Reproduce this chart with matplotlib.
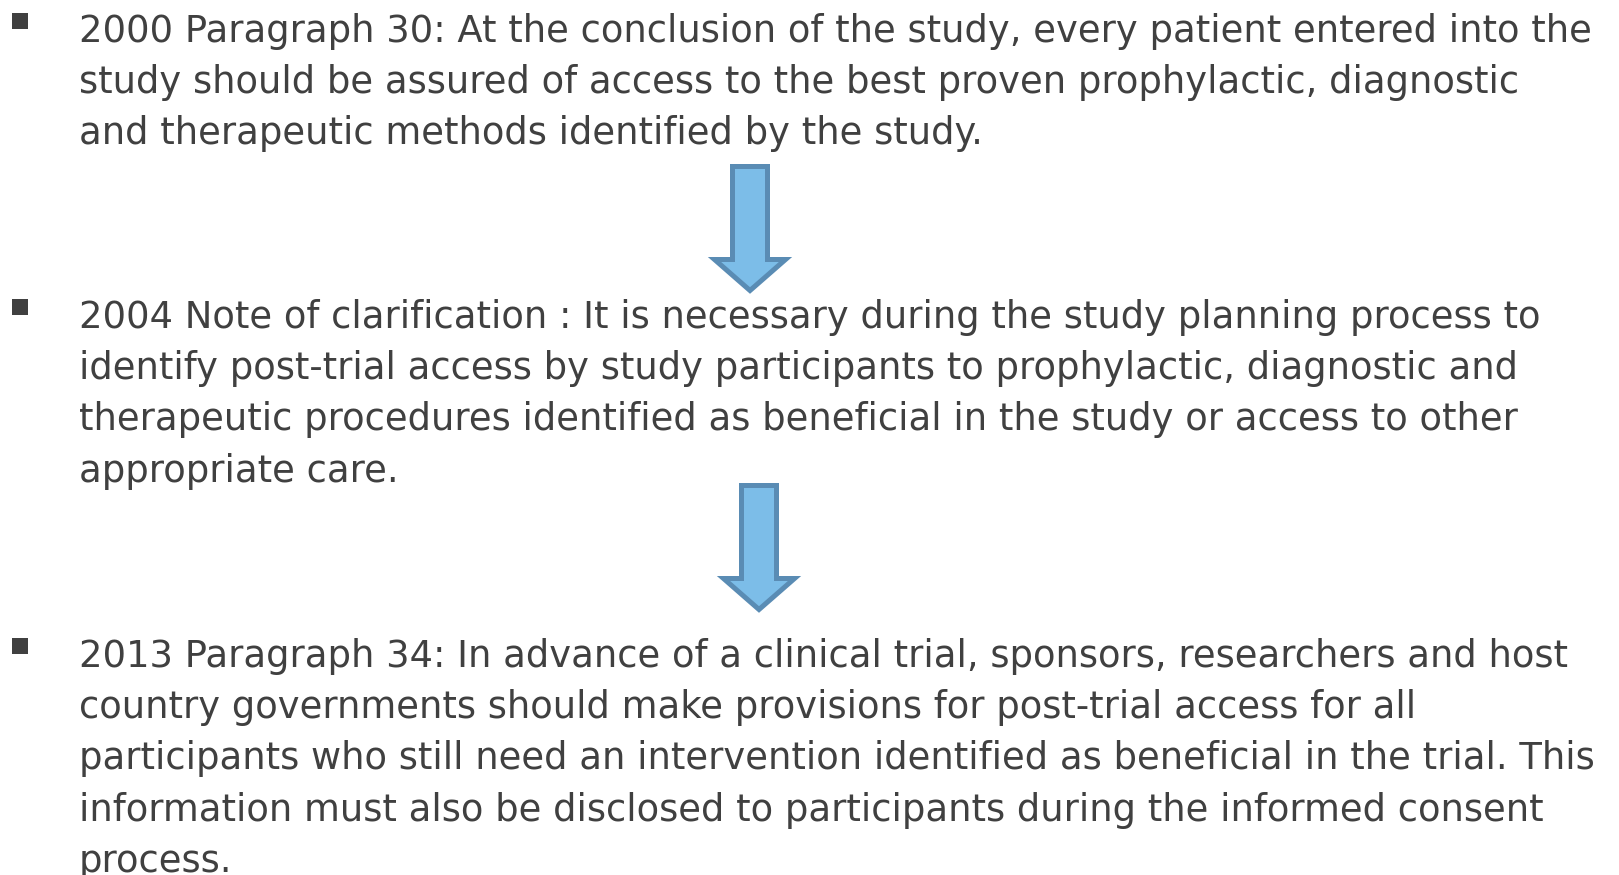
import matplotlib
matplotlib.use("Agg")
import matplotlib.pyplot as plt
from matplotlib.patches import Polygon, Rectangle

W, H = 1619, 875
DPI = 100

TEXT_COLOR = "#404040"
ARROW_FILL = "#7CBDE8"
ARROW_EDGE = "#5A8CB4"

para1 = [
    "2000 Paragraph 30: At the conclusion of the study, every patient entered into the",
    "study should be assured of access to the best proven prophylactic, diagnostic",
    "and therapeutic methods identified by the study.",
]
para2 = [
    "2004 Note of clarification : It is necessary during the study planning process to",
    "identify post-trial access by study participants to prophylactic, diagnostic and",
    "therapeutic procedures identified as beneficial in the study or access to other",
    "appropriate care.",
]
para3 = [
    "2013 Paragraph 34: In advance of a clinical trial, sponsors, researchers and host",
    "country governments should make provisions for post-trial access for all",
    "participants who still need an intervention identified as beneficial in the trial. This",
    "information must also be disclosed to participants during the informed consent",
    "process.",
]
paragraphs = [para1, para2, para3]
first_baselines = [42, 328, 667]
line_step = 51.2

# arrows: (center x, top y, head base y, tip y)
arrows = [(750, 164, 257, 295), (759, 483, 576, 614)]
shaft_half = 20
head_half = 40

fig = plt.figure(figsize=(W / DPI, H / DPI), dpi=DPI)
ax = fig.add_axes([0, 0, 1, 1])
ax.set_xlim(0, W)
ax.set_ylim(H, 0)
ax.axis("off")

text_x = 79
for lines, b0 in zip(paragraphs, first_baselines):
    ax.add_patch(Rectangle((12, b0 - 29), 16, 16, facecolor=TEXT_COLOR,
                           edgecolor="none"))
    for i, line in enumerate(lines):
        ax.text(text_x, b0 + i * line_step, line, ha="left", va="baseline",
                fontsize=26.6, color=TEXT_COLOR, family=["DejaVu Sans"],
                clip_on=False)

inset = 2.5
for cx, top, hb, tip in arrows:
    sh = shaft_half - inset
    hh = head_half - inset * 1.8
    pts = [
        (cx - sh, top + inset),
        (cx + sh, top + inset),
        (cx + sh, hb + inset),
        (cx + hh, hb + inset),
        (cx, tip - inset * 1.8),
        (cx - hh, hb + inset),
        (cx - sh, hb + inset),
    ]
    ax.add_patch(Polygon(pts, closed=True, facecolor=ARROW_FILL,
                         edgecolor=ARROW_EDGE, linewidth=3.6,
                         joinstyle="miter"))

fig.savefig("out.png", dpi=DPI)
